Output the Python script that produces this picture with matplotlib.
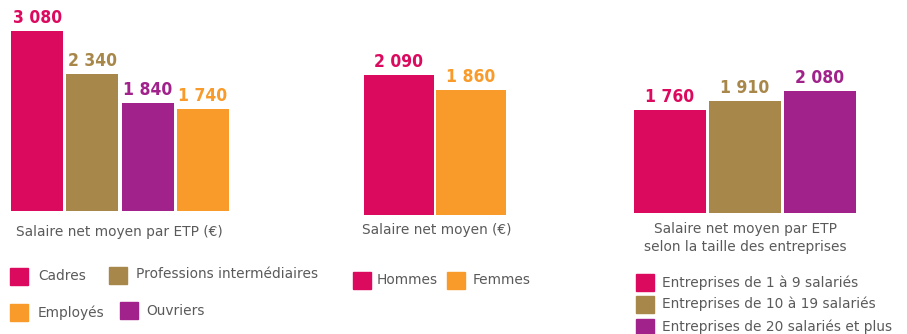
import matplotlib
matplotlib.use("Agg")
import matplotlib.pyplot as plt
from matplotlib.patches import Rectangle

W, H = 907, 334

PINK = "#DC0A5F"
TAN = "#A8874A"
PURPLE = "#A0228A"
ORANGE = "#F89B2A"
GREY = "#5A5A5A"

# Salaires par catégorie socioprofessionnelle
csp_labels = ["Cadres", "Professions intermédiaires", "Ouvriers", "Employés"]
csp_values = [3080, 2340, 1840, 1740]
csp_colors = [PINK, TAN, PURPLE, ORANGE]

# Salaires par sexe
sexe_labels = ["Hommes", "Femmes"]
sexe_values = [2090, 1860]
sexe_colors = [PINK, ORANGE]

# Salaires par taille d'entreprise
taille_labels = ["Entreprises de 1 à 9 salariés",
                 "Entreprises de 10 à 19 salariés",
                 "Entreprises de 20 salariés et plus"]
taille_values = [1760, 1910, 2080]
taille_colors = [PINK, TAN, PURPLE]


def fmt(v):
    return f"{v:,}".replace(",", " ")


def px(x, y):
    return x / W, 1 - y / H


fig = plt.figure(figsize=(W / 100, H / 100), dpi=100)


def panel(left, width, base, scale, values, colors, bw):
    ax = fig.add_axes([left / W, (H - base) / H, width / W, base / H])
    xs = range(len(values))
    bars = ax.bar(xs, values, width=bw, color=colors)
    for b, v, c in zip(bars, values, colors):
        ax.annotate(fmt(v), (b.get_x() + b.get_width() / 2, v),
                    xytext=(0, 3), textcoords="offset points",
                    ha="center", va="bottom", color=c,
                    fontsize=12.5, fontweight="bold",
                    family="DejaVu Sans", fontstretch="condensed")
    ax.set_xlim(-bw / 2, len(values) - 1 + bw / 2)
    ax.set_ylim(0, base / scale)
    ax.axis("off")
    return ax


panel(11, 218, 210.7, 0.05844, csp_values, csp_colors, 52 / 55)
panel(364, 142, 214.7, 0.0668, sexe_values, sexe_colors, 70 / 72)
panel(634, 222, 212.7, 0.0584, taille_values, taille_colors, 72 / 75)

txt = dict(color=GREY, fontsize=9.9, family="DejaVu Sans")
fig.text(*px(16, 232), "Salaire net moyen par ETP (€)", ha="left", va="center", **txt)
fig.text(*px(362, 230), "Salaire net moyen (€)", ha="left", va="center", **txt)
fig.text(*px(745, 238), "Salaire net moyen par ETP\nselon la taille des entreprises",
         ha="center", va="center", linespacing=1.3, **txt)

# légendes : (libellé, couleur, x carré, y haut carré, x texte, y texte)
legend_items = [
    (csp_labels[0], PINK, 10, 268, 38, 276),
    (csp_labels[1], TAN, 109, 267, 136, 274),
    (csp_labels[3], ORANGE, 10, 304, 38, 313),
    (csp_labels[2], PURPLE, 120, 302, 146, 311),
    (sexe_labels[0], PINK, 353, 272, 377, 280),
    (sexe_labels[1], ORANGE, 447, 272, 473, 280),
    (taille_labels[0], PINK, 636, 274, 662, 283),
    (taille_labels[1], TAN, 636, 296, 662, 304),
    (taille_labels[2], PURPLE, 636, 319, 662, 327),
]
for label, color, sx, sy, tx, ty in legend_items:
    x0, y0 = px(sx, sy + 17)
    fig.patches.append(Rectangle((x0, y0), 18 / W, 17 / H, color=color,
                                 transform=fig.transFigure, figure=fig))
    fig.text(*px(tx, ty), label, ha="left", va="center", **txt)

fig.savefig("out.png", dpi=100)
